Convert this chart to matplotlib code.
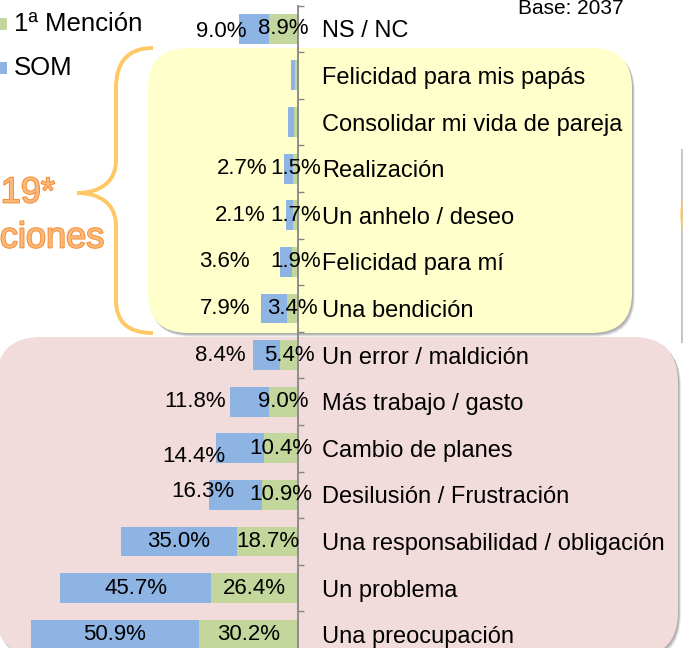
import matplotlib
matplotlib.use("Agg")
import matplotlib.pyplot as plt
from matplotlib.patches import FancyBboxPatch, Rectangle, Ellipse, PathPatch
from matplotlib.path import Path
import matplotlib.patheffects as pe
import matplotlib.transforms as mtransforms
import numpy as np

plt.rcParams['font.family'] = ['Liberation Sans', 'DejaVu Sans']

# ---- data ----
categories = [
    "NS / NC",
    "Felicidad para mis papás",
    "Consolidar mi vida de pareja",
    "Realización",
    "Un anhelo / deseo",
    "Felicidad para mí",
    "Una bendición",
    "Un error / maldición",
    "Más trabajo / gasto",
    "Cambio de planes",
    "Desilusión / Frustración",
    "Una responsabilidad / obligación",
    "Un problema",
    "Una preocupación",
]
primera_mencion = [8.9, 1.0, 1.3, 1.5, 1.7, 1.9, 3.4, 5.4, 9.0, 10.4, 10.9, 18.7, 26.4, 30.2]
som = [9.0, 1.2, 1.7, 2.7, 2.1, 3.6, 7.9, 8.4, 11.8, 14.4, 16.3, 35.0, 45.7, 50.9]
show_value = [True, False, False, True, True, True, True, True, True, True, True, True, True, True]
legend_labels = ["1ª Mención", "SOM"]
base_text = "Base: 2037"

# ---- styling / layout ----
W, H = 683, 648
GREEN = "#C3D69B"
BLUE = "#8EB4E3"
YELLOW = "#FFFFCC"
PINK = "#F2DCDB"
BRACE = "#FFC864"
AXIS_GRAY = "#868686"
FS_CAT = 17
FS_VAL = 16

# hand-placed SOM label centres (axis units) and vertical nudges (px)
som_label_x = {0: 23.4, 3: 17.1, 4: 17.7, 5: 22.5, 6: 22.2, 7: 23.7, 8: 31.3, 9: 31.6, 10: 28.9}
som_label_dy = {0: 3, 9: 8, 10: -3}

fig = plt.figure(figsize=(W / 100, H / 100), dpi=100)

# background layer in pixel units
bg = fig.add_axes([0, 0, 1, 1], zorder=0)
bg.set_xlim(0, W)
bg.set_ylim(H, 0)
bg.axis("off")


def rounded_box(x, y, w, h, r, color, z):
    for k, a in zip([5, 4, 3, 2], [0.06, 0.10, 0.14, 0.18]):
        bg.add_patch(FancyBboxPatch((x + k * 0.6, y + k * 0.8), w, h,
                                    boxstyle=f"round,pad=0,rounding_size={r}",
                                    fc="#404040", ec="none", alpha=a, zorder=z))
    bg.add_patch(FancyBboxPatch((x, y), w, h,
                                boxstyle=f"round,pad=0,rounding_size={r}",
                                fc=color, ec="none", zorder=z + 0.5))


# pink box (negative attributes)
rounded_box(-4, 337, 682, 320, 45, PINK, 1)

# curly brace
verts = [
    (153, 48), (128, 48), (116, 62), (116, 88),
    (116, 160),
    (116, 182), (100, 193), (77, 193),
    (100, 193), (116, 204), (116, 226),
    (116, 300),
    (116, 322), (128, 333), (153, 333),
]
codes = [Path.MOVETO, Path.CURVE4, Path.CURVE4, Path.CURVE4,
         Path.LINETO,
         Path.CURVE4, Path.CURVE4, Path.CURVE4,
         Path.CURVE4, Path.CURVE4, Path.CURVE4,
         Path.LINETO,
         Path.CURVE4, Path.CURVE4, Path.CURVE4]
bg.add_patch(PathPatch(Path(verts, codes), fc="none", ec=BRACE, lw=2.8,
                       capstyle="butt", zorder=2))

# yellow box (positive attributes)
rounded_box(148, 48, 484, 285, 40, YELLOW, 3)

# edge of the neighbouring panel on the right
bg.plot([681.5, 681.5], [150, 342], color="#B0B0B0", lw=1.5, alpha=0.7, zorder=2)
bg.add_patch(Ellipse((690, 215), 20, 44, fc=BRACE, ec="none", alpha=0.6, zorder=2))

# orange call-out text
for txt, xr, yc in [("19*", 55, 193), ("ciones", 104, 238)]:
    bg.text(xr, yc, txt, ha="right", va="center", fontsize=26, color="#FBB878",
            path_effects=[pe.withStroke(linewidth=1.3, foreground="#F4892F")], zorder=4)

# legend
for (lab, col, yc) in [(legend_labels[0], GREEN, 24), (legend_labels[1], BLUE, 68)]:
    bg.add_patch(Rectangle((-5, yc - 6), 12, 12, fc=col, ec="none", zorder=4))
    bg.text(14, yc, lab, ha="left", va="center", fontsize=18.5, color="black", zorder=4)

bg.text(518, 14, base_text, ha="left", va="baseline", fontsize=15, color="black", zorder=4)

# ---- bar chart ----
axis_x = 298.3
px_per_unit = 3.30
top_px, bottom_px = 5.5, 658.0
ax = fig.add_axes([0, 1 - bottom_px / H, axis_x / W, (bottom_px - top_px) / H], zorder=5)
ax.patch.set_alpha(0)
n = len(categories)
y = np.arange(n)
ax.set_xlim(axis_x / px_per_unit, 0)
ax.set_ylim(n - 0.5, -0.5)

bar_h = 0.64
ax.barh(y, primera_mencion, height=bar_h, color=GREEN, edgecolor="none", zorder=2)
ax.barh(y, som, left=primera_mencion, height=bar_h, color=BLUE, edgecolor="none", zorder=2)

for s in ["left", "top", "bottom"]:
    ax.spines[s].set_visible(False)
ax.spines["right"].set_color(AXIS_GRAY)
ax.spines["right"].set_linewidth(1.3)
ax.set_xticks([])
ax.yaxis.tick_right()
ax.set_yticks(y)
ax.set_yticklabels(categories, fontsize=FS_CAT)
ax.tick_params(axis="y", which="major", length=0, pad=16.8)
ax.set_yticks(np.arange(n + 1) - 0.5, minor=True)
ax.tick_params(axis="y", which="minor", length=4.3, width=1.0, color=AXIS_GRAY, direction="out")

# value labels
for i in range(n):
    if not show_value[i]:
        continue
    f, s = primera_mencion[i], som[i]
    ax.text(f / 2, i, f"{f:.1f}%", ha="center", va="center", fontsize=FS_VAL, zorder=3)
    sx = som_label_x.get(i, f + s / 2)
    dy = som_label_dy.get(i, 0)
    tr = mtransforms.offset_copy(ax.transData, fig=fig, x=0, y=-dy * 0.72, units="points")
    ax.text(sx, i, f"{s:.1f}%", ha="center", va="center", fontsize=FS_VAL, zorder=3, transform=tr)

fig.savefig("out.png", dpi=100)
